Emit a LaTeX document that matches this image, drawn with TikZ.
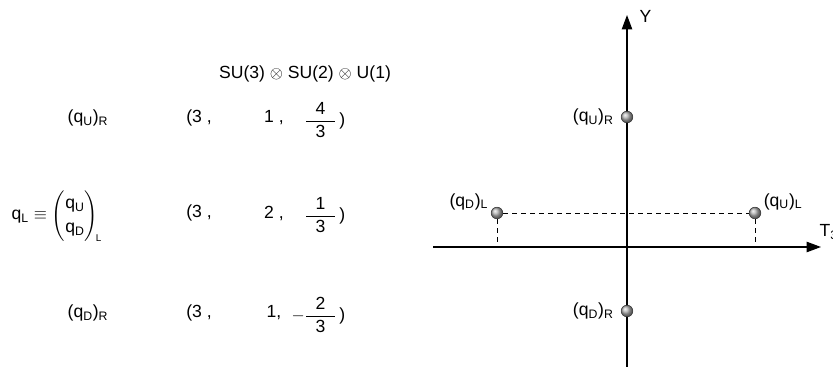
\documentclass[tikz,border=0pt]{standalone}
\usepackage{amsmath}
\usepackage{fontspec}
\setmainfont{Liberation Sans}
\usetikzlibrary{arrows.meta,positioning}
\newcommand{\qsub}[2]{(q\textsubscript{#1})\textsubscript{#2}}
\newcommand{\wfrac}[2]{\dfrac{\;\;\text{#1}\;\;}{\;\;\text{#2}\;\;}}

\begin{document}
\begin{tikzpicture}[
  x=0.025cm,y=-0.025cm,
  font=\fontsize{12.5}{15}\selectfont,
  every node/.style={inner sep=1pt},
  axis/.style={line width=0.9pt,-{Triangle[length=3.6mm,width=2.6mm]}},
  guide/.style={line width=0.6pt,dash pattern=on 3.6pt off 2.8pt},
  statedot/.style={circle,draw=black!80,line width=0.4pt,shading=ball,
                ball color=gray!60,minimum size=2.9mm,inner sep=0pt},
  statelbl/.style={font=\fontsize{12.5}{15}\selectfont}
]
\clip (0,0) rectangle (833,367);
\useasboundingbox (0,0) rectangle (833,367);

% --- Table of charges ---
\node (group) at (305,74) {SU(3) $\otimes$ SU(2) $\otimes$ U(1)};

\node (uRname) at (88,118) {\qsub{U}{R}};
\node (uRc) at (199,118) {(3 ,};
\node (uRw) at (274,118) {1 ,};
\node[anchor=east] (uRy) at (347,120) {$\wfrac{4}{3}$\,)};

\node[anchor=west] (qLname) at (10,216)
  {q\textsubscript{L} $\equiv$ {\renewcommand{\arraystretch}{1.15}$\begin{pmatrix}\text{q\textsubscript{U}}\\ \text{q\textsubscript{D}}\end{pmatrix}_{\!\text{\scriptsize L}}$}};
\node (qLc) at (199,213) {(3 ,};
\node (qLw) at (274,213) {2 ,};
\node[anchor=east] (qLy) at (347,215) {$\wfrac{1}{3}$\,)};

\node (dRname) at (88,313) {\qsub{D}{R}};
\node (dRc) at (199,313) {(3 ,};
\node (dRw) at (274,313) {1,};
\node[anchor=east] (dRy) at (347,315) {$-\wfrac{2}{3}$\,)};

% --- Weight diagram ---
\coordinate (ybot) at (627,367);
\coordinate (ytop) at (627,15);
\coordinate (xl) at (433,247);
\coordinate (xr) at (821,247);
\draw[axis] (xl) -- (xr);
\draw[axis] (ybot) -- (ytop);
\node[anchor=west] (ylbl) at (638,16) {Y};
\node[anchor=west] (xlbl) at (818,232) {T\textsubscript{3}};

\node[statedot] (uR) at (627,117) {};
\node[statedot] (dR) at (627,311) {};
\node[statedot] (dL) at (497,213) {};
\node[statedot] (uL) at (755,213) {};
\coordinate (dLfoot) at (497,247);
\coordinate (uLfoot) at (755,247);

\node[statelbl,left=4pt of uR] {\qsub{U}{R}};
\node[statelbl,left=4pt of dR] {\qsub{D}{R}};
\node[statelbl,above left=-2pt and 2pt of dL] {\qsub{D}{L}};
\node[statelbl,above right=-2pt and 2pt of uL] {\qsub{U}{L}};

\draw[guide] (dL) -- (uL);
\draw[guide] (dL) -- (dLfoot);
\draw[guide] (uL) -- (uLfoot);
\end{tikzpicture}
\end{document}
